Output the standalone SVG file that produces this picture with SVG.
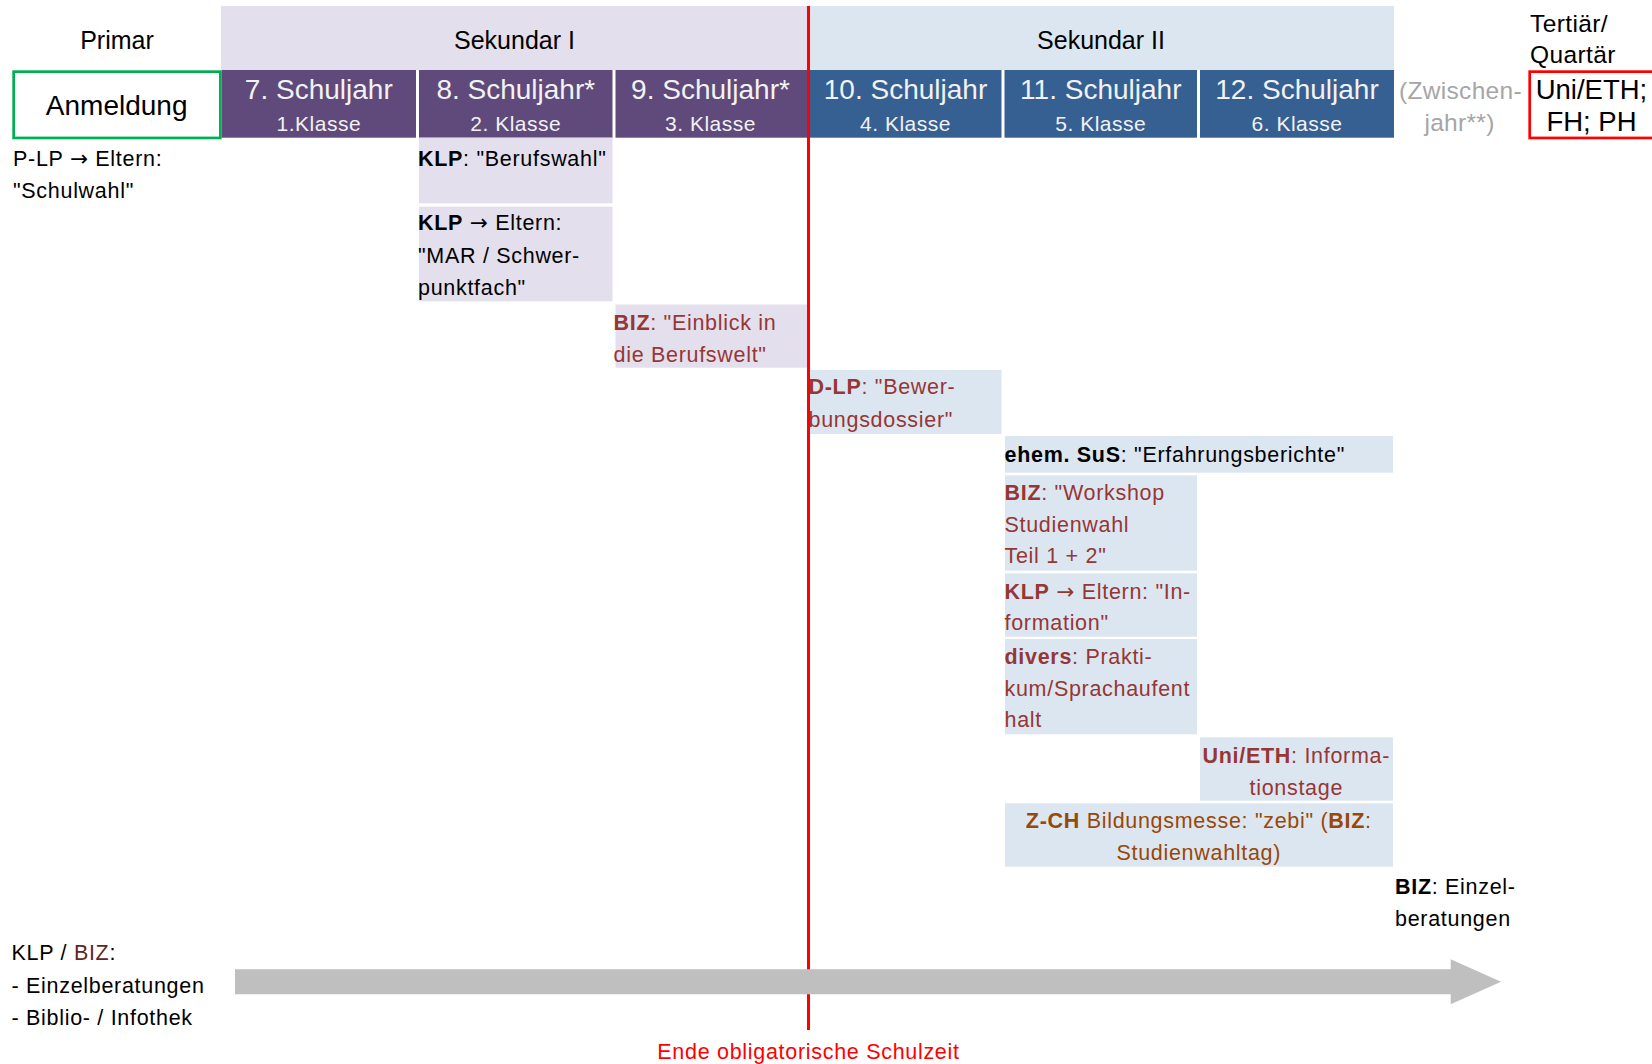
<svg xmlns="http://www.w3.org/2000/svg" width="1652" height="1064" viewBox="0 0 1652 1064">
<style>
text{font-family:"Liberation Sans",Arial,sans-serif;fill:#000}
.hd{font-size:25px}
.yr{font-size:28px;fill:#f2f2f2;text-anchor:middle}
.kl{font-size:21px;fill:#f2f2f2;text-anchor:middle;letter-spacing:0.5px}
.b{font-size:21.5px;letter-spacing:0.7px}
.red{fill:#953735}
.brn{fill:#984807}
.c{text-anchor:middle}
.bold{font-weight:bold}
.ar{font-family:"DejaVu Sans",sans-serif;font-weight:normal}
.sek1{fill:#e4dfec}
.sek2{fill:#dce6f1}
.pur{fill:#604a7b}
.blu{fill:#376092}
</style>
<rect width="1652" height="1064" fill="#fff"/>
<g id="header">
  <text class="hd c" x="117" y="48.7">Primar</text>
  <rect class="sek1" x="221" y="6" width="587.5" height="64"/>
  <text class="hd c" x="514.5" y="48.7">Sekundar I</text>
  <rect class="sek2" x="808.5" y="6" width="585.5" height="64"/>
  <text class="hd c" x="1101" y="48.7">Sekundar II</text>
  <text style="font-size:24.5px;letter-spacing:0.4px" x="1530" y="31.7">Tertiär/</text>
  <text style="font-size:24.5px;letter-spacing:0.4px" x="1530" y="63.3">Quartär</text>
</g>
<g id="anmeldung">
  <rect x="13.65" y="71.65" width="206.7" height="66.3" fill="#fff" stroke="#00b050" stroke-width="2.7"/>
  <text class="c" style="font-size:28px" x="116.7" y="115.3">Anmeldung</text>
</g>
<g id="jahr7"><rect class="pur" x="221.7" y="70" width="194.3" height="67.7"/><text class="yr" x="318.8" y="99">7. Schuljahr</text><text class="kl" x="318.8" y="131">1.Klasse</text></g>
<g id="jahr8"><rect class="pur" x="419" y="70" width="193.5" height="67.7"/><text class="yr" x="515.8" y="99">8. Schuljahr*</text><text class="kl" x="515.8" y="131">2. Klasse</text></g>
<g id="jahr9"><rect class="pur" x="615.5" y="70" width="192.5" height="67.7"/><text class="yr" x="710.5" y="99">9. Schuljahr*</text><text class="kl" x="710.5" y="131">3. Klasse</text></g>
<g id="jahr10"><rect class="blu" x="809.5" y="70" width="192" height="67.7"/><text class="yr" x="905.5" y="99">10. Schuljahr</text><text class="kl" x="905.5" y="131">4. Klasse</text></g>
<g id="jahr11"><rect class="blu" x="1004.5" y="70" width="192.5" height="67.7"/><text class="yr" x="1100.8" y="99">11. Schuljahr</text><text class="kl" x="1100.8" y="131">5. Klasse</text></g>
<g id="jahr12"><rect class="blu" x="1200" y="70" width="194" height="67.7"/><text class="yr" x="1297" y="99">12. Schuljahr</text><text class="kl" x="1297" y="131">6. Klasse</text></g>
<g id="zwischenjahr">
  <text class="c" style="font-size:24.5px;letter-spacing:0.3px;fill:#a6a6a6" x="1460.5" y="99">(Zwischen-</text>
  <text class="c" style="font-size:24.5px;letter-spacing:0.3px;fill:#a6a6a6" x="1459.5" y="131">jahr**)</text>
</g>
<g id="tertiaer">
  <rect x="1529.7" y="71.65" width="130" height="66.3" fill="#fff" stroke="#ff0000" stroke-width="2.7"/>
  <text class="c" style="font-size:27.5px" x="1591.5" y="99">Uni/ETH;</text>
  <text class="c" style="font-size:27.5px" x="1591.5" y="131">FH; PH</text>
</g>
<g id="plp">
  <text class="b" x="13" y="165.7">P-LP <tspan class="ar">→</tspan> Eltern:</text>
  <text class="b" x="13" y="198.3">"Schulwahl"</text>
</g>
<g id="klp-berufswahl">
  <rect class="sek1" x="419" y="137.7" width="193.5" height="65.6"/>
  <text class="b" x="418" y="165.7"><tspan class="bold">KLP</tspan>: "Berufswahl"</text>
</g>
<g id="klp-mar">
  <rect class="sek1" x="419" y="206.7" width="193.5" height="94.6"/>
  <text class="b" x="418" y="230.3"><tspan class="bold">KLP</tspan> <tspan class="ar">→</tspan> Eltern:</text>
  <text class="b" x="418" y="263">"MAR / Schwer-</text>
  <text class="b" x="418" y="295">punktfach"</text>
</g>
<g id="biz-einblick">
  <rect class="sek1" x="615.5" y="304.5" width="192.5" height="63.2"/>
  <text class="b red" x="613.5" y="329.8"><tspan class="bold">BIZ</tspan>: "Einblick in</text>
  <text class="b red" x="613.5" y="361.6">die Berufswelt"</text>
</g>
<g id="dlp">
  <rect class="sek2" x="809.5" y="370" width="192" height="64"/>
  <text class="b red" x="808.5" y="393.6"><tspan class="bold">D-LP</tspan>: "Bewer-</text>
  <text class="b red" x="808.5" y="427.2">bungsdossier"</text>
</g>
<g id="ehem-sus">
  <rect class="sek2" x="1005" y="436" width="388" height="36.7"/>
  <text class="b" x="1004.5" y="462.3"><tspan class="bold">ehem. SuS</tspan>: "Erfahrungsberichte"</text>
</g>
<g id="biz-workshop">
  <rect class="sek2" x="1005" y="475.3" width="192" height="95.4"/>
  <text class="b red" x="1004.5" y="500"><tspan class="bold">BIZ</tspan>: "Workshop</text>
  <text class="b red" x="1004.5" y="532.3">Studienwahl</text>
  <text class="b red" x="1004.5" y="563.3">Teil 1 + 2"</text>
</g>
<g id="klp-information">
  <rect class="sek2" x="1005" y="573.3" width="192" height="63.4"/>
  <text class="b red" x="1004.5" y="598.7"><tspan class="bold">KLP</tspan> <tspan class="ar">→</tspan> Eltern: "In-</text>
  <text class="b red" x="1004.5" y="630">formation"</text>
</g>
<g id="divers">
  <rect class="sek2" x="1005" y="639" width="192" height="95.3"/>
  <text class="b red" x="1004.5" y="664.3"><tspan class="bold">divers</tspan>: Prakti-</text>
  <text class="b red" x="1004.5" y="696">kum/Sprachaufent</text>
  <text class="b red" x="1004.5" y="727.3">halt</text>
</g>
<g id="uni-eth">
  <rect class="sek2" x="1200" y="737.3" width="193" height="63.4"/>
  <text class="b red c" x="1296.3" y="763.3"><tspan class="bold">Uni/ETH</tspan>: Informa-</text>
  <text class="b red c" x="1296.3" y="795">tionstage</text>
</g>
<g id="zch">
  <rect class="sek2" x="1005" y="803.3" width="388" height="63.4"/>
  <text class="b brn c" x="1198.8" y="828.3"><tspan class="bold">Z-CH</tspan> Bildungsmesse: "zebi" (<tspan class="bold">BIZ</tspan>:</text>
  <text class="b brn c" x="1198.8" y="860">Studienwahltag)</text>
</g>
<g id="biz-einzel">
  <text class="b" x="1395" y="894"><tspan class="bold">BIZ</tspan>: Einzel-</text>
  <text class="b" x="1395" y="926">beratungen</text>
</g>
<g id="klp-biz">
  <text class="b" x="11.5" y="960">KLP / <tspan style="fill:#632523">BIZ</tspan>:</text>
  <text class="b" x="11.5" y="992.5">- Einzelberatungen</text>
  <text class="b" x="11.5" y="1025">- Biblio- / Infothek</text>
</g>
<g id="ende-schulzeit">
  <line x1="808.5" y1="6" x2="808.5" y2="1030" stroke="#ff0000" stroke-width="3"/>
  <text class="b c" style="fill:#ff0000" x="808.5" y="1059">Ende obligatorische Schulzeit</text>
</g>
<g id="connectors">
  <polygon points="235,969.3 1450.7,969.3 1450.7,959.3 1501,981.8 1450.7,1004.3 1450.7,994.3 235,994.3" fill="#bfbfbf"/>
</g>
</svg>
